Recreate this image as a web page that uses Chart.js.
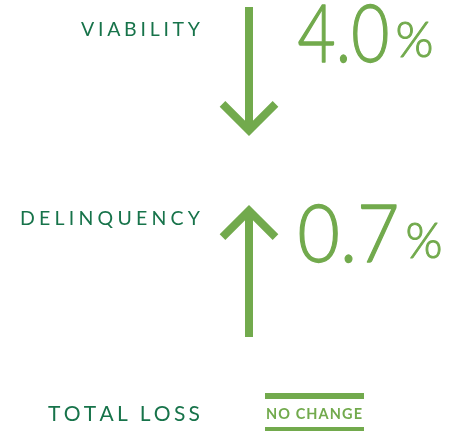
<!DOCTYPE html>
<html>
<head>
<meta charset="utf-8">
<script src="https://cdn.jsdelivr.net/npm/chart.js@4/dist/chart.umd.min.js"></script>
<style>
  html, body { margin: 0; padding: 0; background: #fff; }
  #wrap { width: 457px; height: 431px; }
</style>
</head>
<body>
<div id="wrap"><canvas id="c" width="457" height="431"></canvas></div>
<script>
// 지표 데이터
const metrics = ["VIABILITY", "DELINQUENCY", "TOTAL LOSS"];
const changes = [-4.0, 0.7, 0];          // 전년 대비 변화(%), 0 = 변화 없음
const noChangeLabel = "NO CHANGE";

// 색상
const GREEN = "#72aa4d";
const DARK = "#17734a";

// 레이아웃 (캔버스 픽셀 = 축 값)
const W = 457, H = 431;
const arrowX = 249, headSpan = 26.5, stroke = 8;
const rowBox = [[7, 136], [205, 337], [396, 429]]; // 각 행의 위/아래
const labelRight = 200;
const labelBase = [36, 225, 421];
const labelWidth = [119, 180, 152];

function arrowSets(i) {
  const v = changes[i];
  const [top, bottom] = rowBox[i];
  const tipOff = stroke / 2 * Math.SQRT2;
  if (v === 0) {
    // 변화 없음: 위/아래 가로선
    return [
      { data: [{ x: 265, y: top }, { x: 364, y: top }], borderWidth: 6 },
      { data: [{ x: 265, y: bottom + 1 }, { x: 364, y: bottom + 1 }], borderWidth: 6 },
    ];
  }
  if (v < 0) {
    const tip = bottom - tipOff;
    return [
      { data: [{ x: arrowX, y: top }, { x: arrowX, y: tip }], borderWidth: stroke },
      { data: [{ x: arrowX - headSpan, y: tip - headSpan }, { x: arrowX, y: tip }, { x: arrowX + headSpan, y: tip - headSpan }], borderWidth: stroke },
    ];
  }
  const tip = top + tipOff;
  return [
    { data: [{ x: arrowX, y: bottom }, { x: arrowX, y: tip }], borderWidth: stroke },
    { data: [{ x: arrowX - headSpan, y: tip + headSpan }, { x: arrowX, y: tip }, { x: arrowX + headSpan, y: tip + headSpan }], borderWidth: stroke },
  ];
}

const datasets = [];
metrics.forEach((m, i) => {
  arrowSets(i).forEach(d => datasets.push(Object.assign({
    label: m,
    showLine: true,
    borderColor: GREEN,
    backgroundColor: GREEN,
    pointRadius: 0,
    pointHoverRadius: 0,
    borderCapStyle: "butt",
    borderJoinStyle: "miter",
    tension: 0,
    clip: false,
  }, d)));
});

// 자간 있는 텍스트 (오른쪽 정렬, 목표 폭에 맞춤)
function spaced(ctx, text, right, base, width) {
  const chars = text.split("");
  const ws = chars.map(ch => ctx.measureText(ch).width);
  const total = ws.reduce((a, b) => a + b, 0);
  const gap = (width - total) / (chars.length - 1);
  let x = right - width;
  ctx.textAlign = "left";
  chars.forEach((ch, k) => { ctx.fillText(ch, x, base); x += ws[k] + gap; });
}

// 폭 맞춤 텍스트, 획을 약간 두껍게
function fitText(ctx, text, left, base, width, thick) {
  const w = ctx.measureText(text).width;
  ctx.save();
  ctx.translate(left, base);
  ctx.scale(width / w, 1);
  ctx.textAlign = "left";
  ctx.fillText(text, 0, 0);
  if (thick) {
    ctx.lineWidth = thick;
    ctx.lineJoin = "round";
    ctx.strokeStyle = ctx.fillStyle;
    ctx.strokeText(text, 0, 0);
  }
  ctx.restore();
}

const labels = {
  id: "labels",
  afterDatasetsDraw(chart) {
    const { ctx, scales: { x, y } } = chart;
    ctx.save();
    ctx.textBaseline = "alphabetic";
    metrics.forEach((m, i) => {
      ctx.fillStyle = DARK;
      ctx.font = (i === 2 ? "400 21px" : "400 19.5px") + " Lato, 'Open Sans', sans-serif";
      spaced(ctx, m, x.getPixelForValue(labelRight), y.getPixelForValue(labelBase[i]), labelWidth[i]);
    });
    // 수치
    const numPos = [[297, 63, 93, 395, 57, 39], [297, 263, 103, 405, 258, 38]];
    changes.forEach((v, i) => {
      if (v === 0) return;
      const p = numPos[i];
      ctx.fillStyle = GREEN;
      ctx.font = "300 80px Lato, 'Open Sans', sans-serif";
      fitText(ctx, Math.abs(v).toFixed(1), x.getPixelForValue(p[0] + 0.6), y.getPixelForValue(p[1] - 0.6), p[2] - 1.2, 1.3);
      ctx.font = "300 50px Lato, 'Open Sans', sans-serif";
      fitText(ctx, "%", x.getPixelForValue(p[3] + 0.5), y.getPixelForValue(p[4] - 0.5), p[5] - 1, 1);
    });
    // 변화 없음
    ctx.fillStyle = GREEN;
    ctx.font = "700 14.5px Lato, 'Open Sans', sans-serif";
    spaced(ctx, noChangeLabel, x.getPixelForValue(362), y.getPixelForValue(419), 96);
    ctx.restore();
  }
};

new Chart(document.getElementById("c").getContext("2d"), {
  type: "scatter",
  data: { datasets },
  options: {
    responsive: false,
    animation: false,
    devicePixelRatio: 1,
    layout: { padding: 0 },
    plugins: { legend: { display: false }, tooltip: { enabled: false } },
    events: [],
    scales: {
      x: { type: "linear", min: 0, max: W, display: false },
      y: { type: "linear", min: 0, max: H, reverse: true, display: false },
    },
  },
  plugins: [labels],
});
</script>
</body>
</html>
